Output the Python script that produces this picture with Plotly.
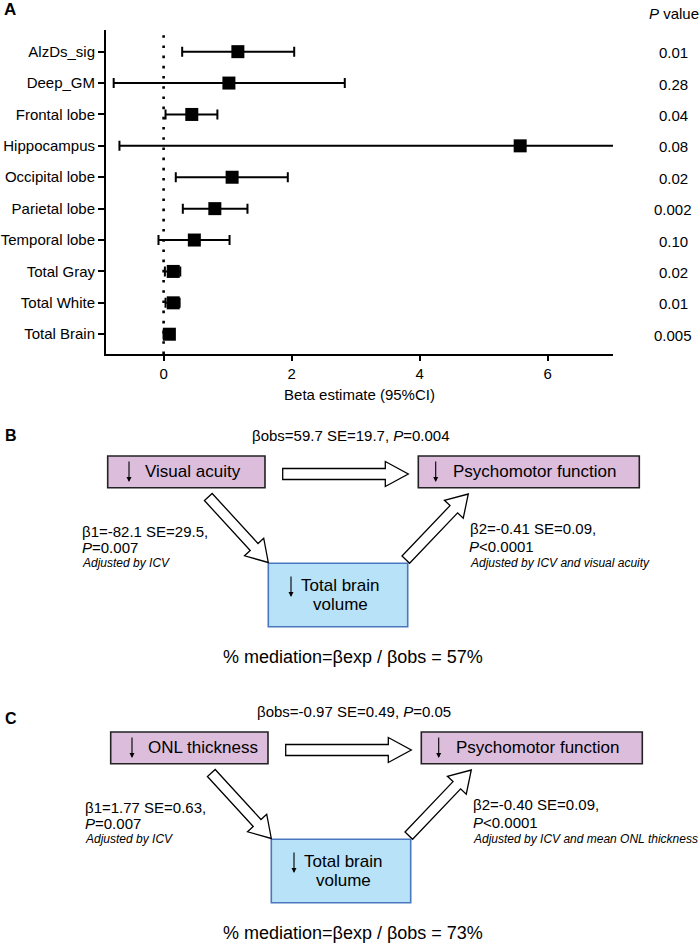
import plotly.graph_objects as go

# Panel A: forest plot values
regions = ["AlzDs_sig", "Deep_GM", "Frontal lobe", "Hippocampus", "Occipital lobe",
           "Parietal lobe", "Temporal lobe", "Total Gray", "Total White", "Total Brain"]
beta = [1.16, 1.02, 0.44, 5.57, 1.07, 0.80, 0.48, 0.15, 0.15, 0.09]
ci_low = [0.29, -0.78, 0.03, -0.69, 0.19, 0.30, -0.08, 0.02, 0.03, 0.00]
ci_high = [2.04, 2.83, 0.84, 7.60, 1.94, 1.31, 1.03, 0.26, 0.25, 0.16]
p_values = ["0.01", "0.28", "0.04", "0.08", "0.02", "0.002", "0.10", "0.02", "0.01", "0.005"]
x_ticks = [0, 2, 4, 6]

# Panels B and C: mediation diagrams
panel_letters = ["B", "C"]
exposures = ["Visual acuity", "ONL thickness"]
obs_text = ["βobs=59.7 SE=19.7, <i>P</i>=0.004", "βobs=-0.97 SE=0.49, <i>P</i>=0.05"]
beta1_text = [["β1=-82.1 SE=29.5,", "<i>P</i>=0.007", "Adjusted by ICV"],
              ["β1=1.77 SE=0.63,", "<i>P</i>=0.007", "Adjusted by ICV"]]
beta2_text = [["β2=-0.41 SE=0.09,", "<i>P</i><0.0001", "Adjusted by ICV and visual acuity"],
              ["β2=-0.40 SE=0.09,", "<i>P</i><0.0001", "Adjusted by ICV and mean ONL thickness"]]
mediation_pct = ["57%", "73%"]

W, H = 700, 948
FONT = "Liberation Sans, Arial, sans-serif"
PURPLE = "#dcbddc"
BLUE = "#b7e2f7"
BLUE_EDGE = "#4a78c0"


def X(px):
    return px / W


def Y(py):
    return 1 - py / H


fig = go.Figure()

fig.add_trace(
    go.Scatter(
        x=beta,
        y=regions,
        mode="markers",
        marker=dict(symbol="square", size=13, color="black"),
        error_x=dict(
            type="data",
            symmetric=False,
            array=[h - b for h, b in zip(ci_high, beta)],
            arrayminus=[b - l for b, l in zip(beta, ci_low)],
            color="black",
            thickness=2,
            width=5,
        ),
        showlegend=False,
        hoverinfo="skip",
    )
)

# dotted reference line at zero
fig.add_shape(type="line", xref="x", yref="y domain", x0=0, x1=0, y0=0, y1=1,
              line=dict(color="black", width=2.6, dash="2.6px,7.6px"))

annotations = []


def text(x, y, s, size=15, anchor="left", italic=False, bold=False):
    if italic:
        s = f"<i>{s}</i>"
    if bold:
        s = f"<b>{s}</b>"
    annotations.append(dict(
        x=X(x), y=Y(y), xref="paper", yref="paper", text=s, showarrow=False,
        xanchor=anchor, yanchor="middle",
        font=dict(size=size, color="black", family=FONT),
    ))


def down_arrow(x, y0, y1):
    annotations.append(dict(
        x=X(x), y=Y(y1), xref="paper", yref="paper", ax=0, ay=-(y1 - y0), text="",
        showarrow=True, arrowhead=2, arrowsize=0.9, arrowwidth=1.1, arrowcolor="black", standoff=0,
    ))


def box(x0, y0, x1, y1, fill, edge):
    fig.add_shape(type="rect", xref="paper", yref="paper", x0=X(x0), x1=X(x1), y0=Y(y1), y1=Y(y0),
                  fillcolor=fill, line=dict(color=edge, width=1.6), layer="above")


def block_arrow(x0, y0, x1, y1, shaft=10.5, head=26, head_len=21):
    dx, dy = x1 - x0, y1 - y0
    n = (dx * dx + dy * dy) ** 0.5
    ux, uy = dx / n, dy / n
    px, py = -uy, ux
    bx, by = x1 - ux * head_len, y1 - uy * head_len
    pts = [
        (x0 + px * shaft / 2, y0 + py * shaft / 2),
        (bx + px * shaft / 2, by + py * shaft / 2),
        (bx + px * head / 2, by + py * head / 2),
        (x1, y1),
        (bx - px * head / 2, by - py * head / 2),
        (bx - px * shaft / 2, by - py * shaft / 2),
        (x0 - px * shaft / 2, y0 - py * shaft / 2),
    ]
    path = "M " + " L ".join(f"{X(a):.5f},{Y(b):.5f}" for a, b in pts) + " Z"
    fig.add_shape(type="path", xref="paper", yref="paper", path=path,
                  fillcolor="white", line=dict(color="black", width=1.3), layer="above")


# Panel A extras
text(2, 9, "A", size=17, bold=True)
text(647, 13, "<i>P</i> value", size=15)
for reg, p in zip(regions, p_values):
    annotations.append(dict(
        x=X(673), y=reg, xref="paper", yref="y", text=p, showarrow=False,
        xanchor="center", yanchor="middle", yshift=-1,
        font=dict(size=15, color="black", family=FONT),
    ))

# Panels B and C
offsets = [(0, 0), (3, 276)]
letter_y = [435, 718]
for i, (dx, dy) in enumerate(offsets):
    text(3, letter_y[i], panel_letters[i], size=16, bold=True)
    text(351 + dx, 435 + dy, obs_text[i], size=15, anchor="center")

    box(107.7 + dx, 456 + dy, 265 + dx, 487.7 + dy, PURPLE, "#222222")
    box(418.3 + dx, 456 + dy, 639.3 + dx, 487.7 + dy, PURPLE, "#222222")
    box(268.3 + dx, 563.3 + dy, 407.7 + dx, 626.7 + dy, BLUE, BLUE_EDGE)

    down_arrow(129 + dx, 460 + dy, 482 + dy)
    text(143 + dx, 471.5 + dy, exposures[i], size=17)
    down_arrow(435.7 + dx, 460 + dy, 482 + dy)
    text(451 + dx, 471.5 + dy, "Psychomotor function", size=17)
    down_arrow(291 + dx, 575 + dy, 597 + dy)
    text(340 + dx, 585 + dy, "Total brain", size=17, anchor="center")
    text(340 + dx, 604 + dy, "volume", size=17, anchor="center")

    block_arrow(282.7 + dx, 474 + dy, 408.3 + dx, 474 + dy, shaft=11, head=25, head_len=23)
    block_arrow(208.3 + dx, 497 + dy, 268.3 + dx, 562.5 + dy)
    block_arrow(405.8 + dx, 559.7 + dy, 468.3 + dx, 494 + dy)

    for line, yy in zip(beta1_text[i], [531.5, 547.5, 563.3]):
        italic = line.startswith("Adjusted")
        text(80 + dx, yy + dy, line, size=12 if italic else 15, italic=italic)
    for line, yy in zip(beta2_text[i], [528.3, 546.5, 563.3]):
        italic = line.startswith("Adjusted")
        text(467.5 + dx, yy + dy, line, size=12 if italic else 15, italic=italic)

    text(353, 656.7 + dy, f"% mediation=βexp / βobs = {mediation_pct[i]}", size=18, anchor="center")

fig.update_layout(
    width=W,
    height=H,
    margin=dict(l=0, r=0, t=0, b=0),
    paper_bgcolor="white",
    plot_bgcolor="white",
    font=dict(family=FONT, color="black", size=15),
    showlegend=False,
    annotations=annotations,
    xaxis=dict(
        domain=[X(106), X(613)],
        range=[-0.9, 7.02],
        tickvals=x_ticks,
        showline=True, linecolor="black", linewidth=2,
        ticks="outside", ticklen=5, tickwidth=2, tickcolor="black",
        showgrid=False, zeroline=False,
        tickfont=dict(size=15),
        title=dict(text="Beta estimate (95%CI)", font=dict(size=15), standoff=8),
    ),
    yaxis=dict(
        domain=[Y(354), Y(30)],
        type="category",
        categoryorder="array",
        categoryarray=regions,
        range=[9.63, -0.69],
        showline=True, linecolor="black", linewidth=2,
        ticks="outside", ticklen=6, tickwidth=2, tickcolor="black",
        showgrid=False, zeroline=False,
        tickfont=dict(size=15),
    ),
)

# drop the default page margin so the figure fills the window exactly
fig.write_html("out.html", config={"displayModeBar": False},
               post_script="document.body.style.margin='0';")
